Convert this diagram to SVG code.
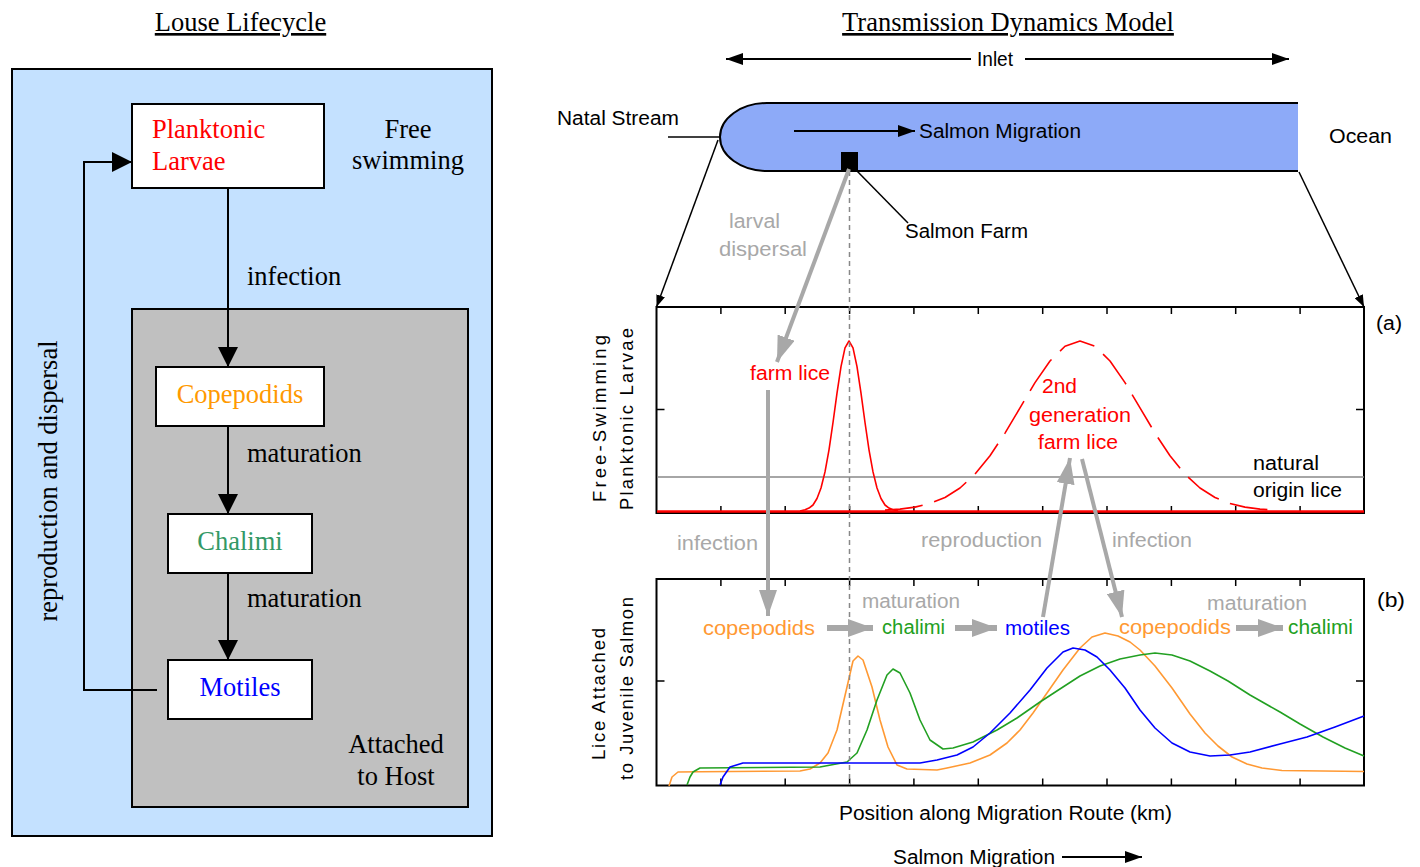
<svg xmlns="http://www.w3.org/2000/svg" width="1420" height="867" viewBox="0 0 1420 867">
<style>
.serif{font-family:"Liberation Serif","Times New Roman",serif;font-size:26.5px;fill:#000}
.sans{font-family:"Liberation Sans",Arial,sans-serif;font-size:20px;fill:#000}
.ax{font-family:"Liberation Sans",Arial,sans-serif;font-size:18.5px;fill:#000}
.gt{fill:#a8a8a8}
.rd{fill:#ff0000}
.og{fill:#ff9933}
.gn{fill:#22a022}
.bl{fill:#0000ff}
.box{fill:#fff;stroke:#000;stroke-width:2}
.ln{fill:none;stroke:#000;stroke-width:2}
.gl{fill:none;stroke:#a8a8a8;stroke-width:4}
.gb{fill:none;stroke:#a8a8a8;stroke-width:6}
.tk{stroke:#000;stroke-width:1.5}
.crv{fill:none;stroke-width:1.6;stroke-linejoin:round}
</style>
<defs>
<marker id="ah" markerUnits="userSpaceOnUse" markerWidth="20" markerHeight="20" refX="20" refY="10" orient="auto"><path d="M0,0 L20,10 L0,20 z" fill="#000"/></marker>
<marker id="sm" markerUnits="userSpaceOnUse" markerWidth="12" markerHeight="9" refX="12" refY="4.5" orient="auto"><path d="M0,0 L12,4.5 L0,9 z" fill="#000"/></marker>
<marker id="md" markerUnits="userSpaceOnUse" markerWidth="17" markerHeight="12" refX="17" refY="6" orient="auto-start-reverse"><path d="M0,0 L17,6 L0,12 z" fill="#000"/></marker>
<marker id="ga" markerUnits="userSpaceOnUse" markerWidth="26" markerHeight="18" refX="26" refY="9" orient="auto"><path d="M0,0 L26,9 L0,18 z" fill="#a8a8a8"/></marker>
<marker id="gh" markerUnits="userSpaceOnUse" markerWidth="25" markerHeight="18" refX="25" refY="9" orient="auto"><path d="M0,0 L25,9 L0,18 z" fill="#a8a8a8"/></marker>
</defs>
<rect width="1420" height="867" fill="#fff"/>

<!-- ===== LEFT: Louse Lifecycle ===== -->
<text class="serif" x="240.5" y="31" text-anchor="middle" text-decoration="underline">Louse Lifecycle</text>
<g id="free-swimming-zone">
<rect x="12" y="69" width="480" height="767" fill="#c4e1ff" stroke="#000" stroke-width="2"/>
<text class="serif" x="408" y="138" text-anchor="middle">Free</text>
<text class="serif" x="408" y="169" text-anchor="middle">swimming</text>
</g>
<g id="attached-zone">
<rect x="132" y="309" width="336" height="498" fill="#c0c0c0" stroke="#000" stroke-width="2"/>
<text class="serif" x="396" y="753" text-anchor="middle">Attached</text>
<text class="serif" x="396" y="785" text-anchor="middle">to Host</text>
</g>
<g id="planktonic-larvae">
<rect class="box" x="132" y="104" width="192" height="84"/>
<text class="serif rd" x="152" y="138">Planktonic</text>
<text class="serif rd" x="152" y="170">Larvae</text>
</g>
<g id="copepodids">
<rect class="box" x="156" y="367" width="168" height="59"/>
<text class="serif" x="240" y="403" text-anchor="middle" style="fill:#ff9900">Copepodids</text>
</g>
<g id="chalimi">
<rect class="box" x="168" y="514" width="144" height="59"/>
<text class="serif" x="240" y="550" text-anchor="middle" style="fill:#339966">Chalimi</text>
</g>
<g id="motiles">
<rect class="box" x="168" y="660" width="144" height="59"/>
<text class="serif bl" x="240" y="696" text-anchor="middle">Motiles</text>
</g>
<g id="lifecycle-connectors">
<line class="ln" x1="228" y1="189" x2="228" y2="367" marker-end="url(#ah)"/>
<line class="ln" x1="228" y1="426" x2="228" y2="514" marker-end="url(#ah)"/>
<line class="ln" x1="228" y1="573" x2="228" y2="660" marker-end="url(#ah)"/>
<path class="ln" d="M157,690 H84 V162 H132" marker-end="url(#ah)"/>
<text class="serif" x="247" y="285">infection</text>
<text class="serif" x="247" y="462">maturation</text>
<text class="serif" x="247" y="607">maturation</text>
<text class="serif" transform="translate(57,481) rotate(-90)" text-anchor="middle">reproduction and dispersal</text>
</g>

<!-- ===== RIGHT: Transmission Dynamics Model ===== -->
<text class="serif" x="1008" y="31" text-anchor="middle" text-decoration="underline">Transmission Dynamics Model</text>

<g id="inlet">
<text class="sans" x="977" y="66" textLength="36" lengthAdjust="spacingAndGlyphs">Inlet</text>
<path d="M1298,103 H767 A47,34 0 0 0 767,171 H1298" fill="#8daaf8" stroke="#000" stroke-width="2"/>
<line x1="668" y1="137" x2="720" y2="137" stroke="#000" stroke-width="1.5"/>
<text class="sans" x="557" y="125" textLength="122" lengthAdjust="spacingAndGlyphs">Natal Stream</text>
<text class="sans" x="919" y="138" textLength="162" lengthAdjust="spacingAndGlyphs">Salmon Migration</text>
<text class="sans" x="1329" y="143" textLength="63" lengthAdjust="spacingAndGlyphs">Ocean</text>
</g>
<g id="salmon-farm">
<rect x="841" y="152" width="17" height="19" fill="#000"/>
<text class="sans" x="905" y="238" textLength="123" lengthAdjust="spacingAndGlyphs">Salmon Farm</text>
</g>

<g id="chart-a">
<rect x="656.5" y="307" width="707.5" height="206" fill="none" stroke="#000" stroke-width="2"/>
<path class="tk" d="M720.9,307v7M785.2,307v7M849.6,307v7M913.9,307v7M978.3,307v7M1042.7,307v7M1107,307v7M1171.4,307v7M1235.7,307v7M1300.1,307v7M720.9,513v-7M785.2,513v-7M849.6,513v-7M913.9,513v-7M978.3,513v-7M1042.7,513v-7M1107,513v-7M1171.4,513v-7M1235.7,513v-7M1300.1,513v-7M656.5,409.5h8M1364,409.5h-8"/>
<line x1="657" y1="477" x2="1364" y2="477" stroke="#888" stroke-width="1.5"/>
<line x1="657" y1="511.5" x2="1364" y2="511.5" stroke="#ff0000" stroke-width="2.5"/>
<polyline class="crv" stroke="#ff0000" points="800,511 805,509.8 809,508.1 813,505 817,498.5 821,488 825,471.9 829,449.8 833,422.5 837,393.2 841,366.6 845,347.8 849,341 853,347.8 857,366.6 861,393.2 865,422.5 869,449.8 873,471.9 877,488 881,498.5 885,505 889,508.1 893,509.8 898,511"/>
<polyline class="crv" stroke="#ff0000" stroke-dasharray="38 12" points="885,510.1 900,509.1 915,507.1 930,503.5 945,497.5 960,488 975,474.2 990,455.8 1005,433.1 1020,407.9 1035,382.6 1050,361 1065,346.2 1080,341 1095,346.2 1110,361 1125,382.6 1140,407.9 1155,433.1 1170,455.8 1185,474.2 1200,488 1215,497.5 1230,503.5 1245,507.1 1260,509.1 1275,510.1"/>
<text class="sans rd" x="750" y="380" textLength="80" lengthAdjust="spacingAndGlyphs">farm lice</text>
<text class="sans rd" x="1042" y="393" textLength="35" lengthAdjust="spacingAndGlyphs">2nd</text>
<text class="sans rd" x="1029" y="421.5" textLength="102" lengthAdjust="spacingAndGlyphs">generation</text>
<text class="sans rd" x="1038" y="449" textLength="80" lengthAdjust="spacingAndGlyphs">farm lice</text>
<text class="sans" x="1253" y="469.5" textLength="66" lengthAdjust="spacingAndGlyphs">natural</text>
<text class="sans" x="1253" y="497" textLength="89" lengthAdjust="spacingAndGlyphs">origin lice</text>
<text class="sans" x="1376" y="330" textLength="26" lengthAdjust="spacingAndGlyphs">(a)</text>
<text class="ax" transform="translate(606,418.5) rotate(-90)" text-anchor="middle" textLength="167" lengthAdjust="spacing">Free-Swimming</text>
<text class="ax" transform="translate(633,419) rotate(-90)" text-anchor="middle" textLength="182" lengthAdjust="spacing">Planktonic Larvae</text>
</g>

<g id="chart-b">
<rect x="656.5" y="579" width="707.5" height="206.5" fill="none" stroke="#000" stroke-width="2"/>
<path class="tk" d="M720.9,579v7M785.2,579v7M849.6,579v7M913.9,579v7M978.3,579v7M1042.7,579v7M1107,579v7M1171.4,579v7M1235.7,579v7M1300.1,579v7M720.9,785.5v-7M785.2,785.5v-7M849.6,785.5v-7M913.9,785.5v-7M978.3,785.5v-7M1042.7,785.5v-7M1107,785.5v-7M1171.4,785.5v-7M1235.7,785.5v-7M1300.1,785.5v-7M656.5,681h8M1364,681h-8"/>
<polyline class="crv" stroke="#ff9933" points="669,786 672,777 678,772 700,771.7 800,771 810,769 820,763 828,753 837,730 847,687 853,661 858,656 863,660 872,687 880,720 888,747 897,765 907,769 937,770 947,768 970,763 990,755 1007,743 1020,730 1033,713 1047,693 1063,670 1080,648 1092,637 1105,633 1118,636 1130,642 1140,650 1155,666 1172,688 1190,714 1205,733 1218,746 1232,757 1247,764 1262,768 1282,770.5 1364,771.5"/>
<polyline class="crv" stroke="#22a022" points="687,785 690,777 693,772 700,768 820,767 847,762 857,753 867,730 877,700 887,675 893,669 900,673 910,693 920,720 930,740 943,749 953,748 973,742 997,730 1017,718 1040,702 1063,687 1080,676 1100,666 1120,659 1140,655 1155,653 1172,655 1190,661 1210,671 1228,681 1250,695 1280,712 1300,724 1323,737 1345,748 1364,756"/>
<polyline class="crv" stroke="#0000ff" points="720,785 723,777 730,767 743,763 920,763 937,760 957,755 973,747 990,733 1010,713 1030,690 1047,668 1063,652 1073,648 1085,650 1097,657 1110,670 1125,688 1140,710 1155,728 1172,743 1190,752 1210,756 1230,755 1250,752 1280,744 1307,737 1335,727 1364,716"/>
<text class="sans og" x="703" y="635" textLength="112" lengthAdjust="spacingAndGlyphs">copepodids</text>
<text class="sans gn" x="882" y="634" textLength="63" lengthAdjust="spacingAndGlyphs">chalimi</text>
<text class="sans bl" x="1005" y="635" textLength="65" lengthAdjust="spacingAndGlyphs">motiles</text>
<text class="sans og" x="1119" y="634" textLength="112" lengthAdjust="spacingAndGlyphs">copepodids</text>
<text class="sans gn" x="1288" y="634" textLength="65" lengthAdjust="spacingAndGlyphs">chalimi</text>
<text class="sans gt" x="862" y="608" textLength="98" lengthAdjust="spacingAndGlyphs">maturation</text>
<text class="sans gt" x="1207" y="609.5" textLength="100" lengthAdjust="spacingAndGlyphs">maturation</text>
<text class="sans" x="1377" y="607" textLength="28" lengthAdjust="spacingAndGlyphs">(b)</text>
<text class="ax" transform="translate(604.5,694) rotate(-90)" text-anchor="middle" textLength="132" lengthAdjust="spacing">Lice Attached</text>
<text class="ax" transform="translate(632.5,688.5) rotate(-90)" text-anchor="middle" textLength="183" lengthAdjust="spacing">to Juvenile Salmon</text>
<text class="sans" x="839" y="820" textLength="333" lengthAdjust="spacingAndGlyphs">Position along Migration Route (km)</text>
</g>

<g id="connectors">
<line x1="726" y1="59" x2="971" y2="59" stroke="#000" stroke-width="2" marker-start="url(#md)"/>
<line x1="1025" y1="59" x2="1289" y2="59" stroke="#000" stroke-width="2" marker-end="url(#md)"/>
<line x1="794" y1="131" x2="915" y2="131" stroke="#000" stroke-width="2" marker-end="url(#md)"/>
<line x1="857" y1="171" x2="908" y2="223" stroke="#000" stroke-width="1.5"/>
<line x1="718" y1="140" x2="656.5" y2="307" stroke="#000" stroke-width="1.5" marker-end="url(#sm)"/>
<line x1="1299" y1="172" x2="1364" y2="307" stroke="#000" stroke-width="1.5" marker-end="url(#sm)"/>
<line x1="849.5" y1="171" x2="849.5" y2="785" stroke="#888" stroke-width="1.5" stroke-dasharray="5 4"/>
<line class="gl" x1="849" y1="169" x2="777" y2="362" marker-end="url(#ga)"/>
<line class="gl" x1="768" y1="390" x2="768" y2="616" marker-end="url(#ga)"/>
<line class="gl" x1="1043" y1="617" x2="1070" y2="458" marker-end="url(#ga)"/>
<line class="gl" x1="1082" y1="459" x2="1122" y2="617" marker-end="url(#ga)"/>
<line class="gb" x1="827" y1="628" x2="873" y2="628" marker-end="url(#gh)"/>
<line class="gb" x1="955" y1="628" x2="997" y2="628" marker-end="url(#gh)"/>
<line class="gb" x1="1236" y1="628" x2="1283" y2="628" marker-end="url(#gh)"/>
<line x1="1062" y1="857" x2="1142" y2="857" stroke="#000" stroke-width="2" marker-end="url(#md)"/>
<text class="sans gt" x="729" y="228" textLength="51" lengthAdjust="spacingAndGlyphs">larval</text>
<text class="sans gt" x="719" y="256" textLength="88" lengthAdjust="spacingAndGlyphs">dispersal</text>
<text class="sans gt" x="677" y="550" textLength="81" lengthAdjust="spacingAndGlyphs">infection</text>
<text class="sans gt" x="921" y="547" textLength="121" lengthAdjust="spacingAndGlyphs">reproduction</text>
<text class="sans gt" x="1112" y="547" textLength="80" lengthAdjust="spacingAndGlyphs">infection</text>
<text class="sans" x="893" y="864" textLength="162" lengthAdjust="spacingAndGlyphs">Salmon Migration</text>
</g>
</svg>
